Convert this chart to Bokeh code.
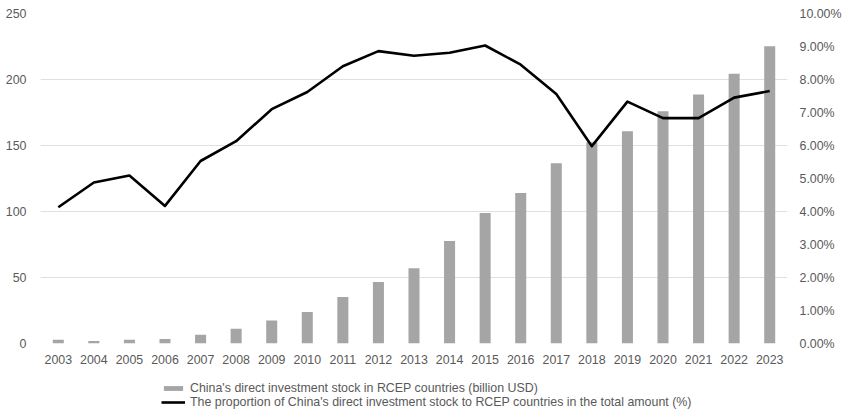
from bokeh.plotting import figure
from bokeh.layouts import column
from bokeh.models import (ColumnDataSource, FactorRange, Range1d, LinearAxis,
                          Legend, LegendItem, NumeralTickFormatter, FixedTicker)
from bokeh.embed import file_html
from bokeh.resources import INLINE

years = [str(y) for y in range(2003, 2024)]
stock_busd = [2.8, 1.8, 2.8, 3.5, 6.6, 11.1, 17.4, 23.8, 35.2, 46.5, 57.0,
              77.6, 98.8, 114.0, 136.6, 152.5, 160.8, 176.0, 188.6, 204.4, 225.2]
share_pct = [4.13, 4.88, 5.09, 4.17, 5.53, 6.13, 7.10, 7.62, 8.40, 8.86, 8.72,
             8.81, 9.03, 8.45, 7.56, 5.98, 7.33, 6.83, 6.83, 7.45, 7.65]

left_ticks = [0, 50, 100, 150, 200, 250]
right_ticks = [i / 100 for i in range(0, 11)]

bar_label = "China's direct investment stock in RCEP countries (billion USD)"
line_label = ("The proportion of China's direct investment stock to RCEP "
              "countries in the total amount (%)")

src = ColumnDataSource(dict(year=years, stock=stock_busd,
                            share=[v / 100 for v in share_pct]))

FONT = "Liberation Sans"
TXT = "#595959"
SIZE = "12.4px"
BAR_COLOR = "#a5a5a5"

p = figure(x_range=FactorRange(*years, range_padding=0),
           y_range=Range1d(0, 250),
           frame_width=747, frame_height=330,
           min_border_left=40, min_border_right=55,
           min_border_top=13, min_border_bottom=20,
           output_backend="svg", toolbar_location=None)
p.outline_line_color = None
p.extra_y_ranges = {"pct": Range1d(0, 0.10)}

p.vbar(x="year", top="stock", width=0.31, source=src,
       fill_color=BAR_COLOR, line_color=None)
p.line(x="year", y="share", source=src, y_range_name="pct",
       line_color="black", line_width=2.6, line_join="round")

# axes
for ax in (p.xaxis[0], p.yaxis[0]):
    ax.axis_line_color = None
    ax.major_tick_line_color = None
    ax.minor_tick_line_color = None
    ax.major_label_text_font = FONT
    ax.major_label_text_font_size = SIZE
    ax.major_label_text_color = TXT
p.xaxis.major_label_standoff = 5
p.yaxis.major_label_standoff = 8
p.yaxis.ticker = FixedTicker(ticks=left_ticks)

right = LinearAxis(y_range_name="pct",
                   ticker=FixedTicker(ticks=right_ticks),
                   formatter=NumeralTickFormatter(format="0.00%"))
right.axis_line_color = None
right.major_tick_line_color = None
right.minor_tick_line_color = None
right.major_label_text_font = FONT
right.major_label_text_font_size = SIZE
right.major_label_text_color = TXT
right.major_label_standoff = 6
p.add_layout(right, "right")

p.xgrid.grid_line_color = None
p.ygrid.grid_line_color = "#e0e0e0"
p.ygrid.grid_line_width = 1

# legend strip underneath the chart; its key glyphs sit outside the view
lg = figure(width=842, height=56, min_border=0,
            x_range=Range1d(0, 1), y_range=Range1d(0, 1),
            x_axis_location=None, y_axis_location=None,
            output_backend="svg", toolbar_location=None)
lg.grid.visible = False
lg.outline_line_color = None
offscreen = ColumnDataSource(dict(x=[-5.0, -4.0], y=[-5.0, -4.0]))
key_bar = lg.vbar(x="x", top="y", width=0.3, source=offscreen,
                  fill_color=BAR_COLOR, line_color=None)
key_line = lg.line(x="x", y="y", source=offscreen,
                   line_color="black", line_width=2.6)

legend = Legend(items=[
    LegendItem(label=bar_label, renderers=[key_bar]),
    LegendItem(label=line_label, renderers=[key_line]),
], orientation="vertical", location=(121, 13))
legend.label_text_font = FONT
legend.label_text_font_size = SIZE
legend.label_text_color = TXT
legend.glyph_width = 24
legend.glyph_height = 6
legend.label_height = 14
legend.spacing = 0
legend.padding = 0
legend.margin = 0
legend.label_standoff = 5
legend.border_line_color = None
legend.background_fill_alpha = 0
lg.add_layout(legend, "center")

page = column(p, lg, spacing=0)
open("out.html", "w").write(file_html(page, INLINE))
